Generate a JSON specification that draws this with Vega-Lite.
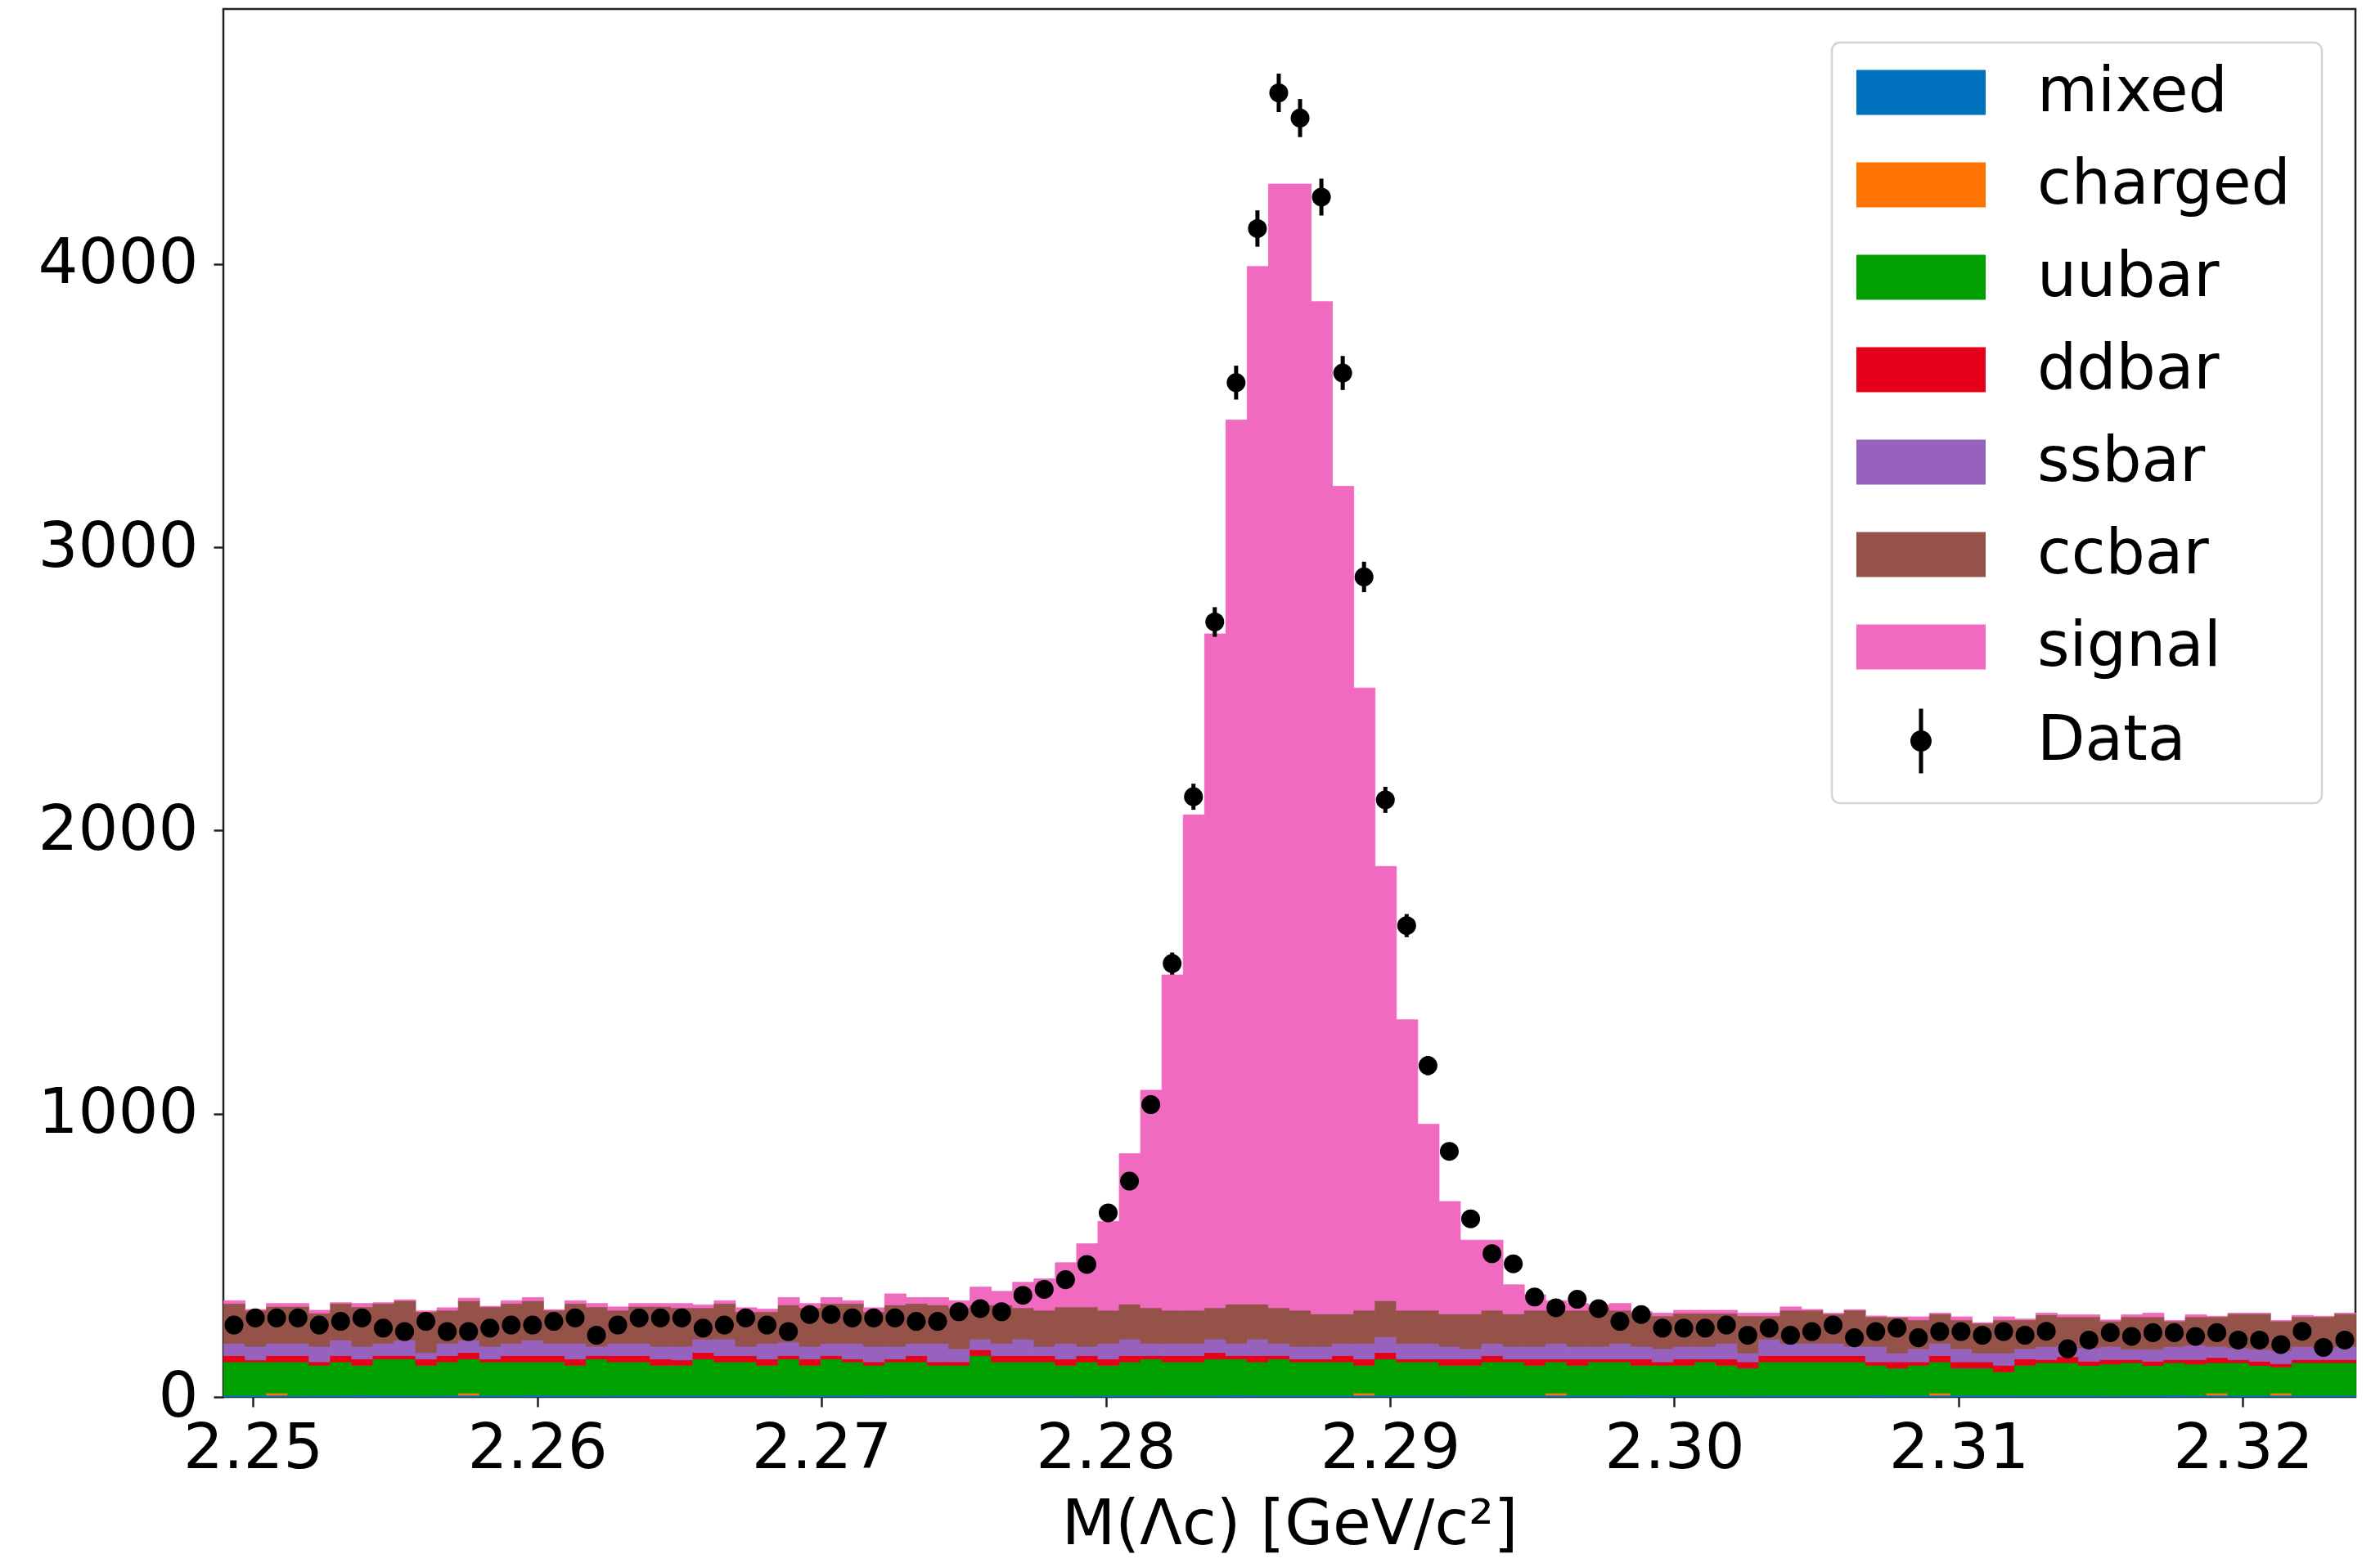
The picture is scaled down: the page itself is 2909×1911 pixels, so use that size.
{
  "$schema": "https://vega.github.io/schema/vega-lite/v6.json",
  "width": 2606,
  "height": 1697,
  "autosize": {"type": "none"},
  "padding": {"left": 273, "top": 11, "right": 30, "bottom": 203},
  "background": "white",
  "config": {
    "font": "DejaVu Sans",
    "view": {"stroke": "#222222", "strokeWidth": 2.5},
    "axis": {
      "grid": false,
      "domain": false,
      "tickColor": "#222222",
      "tickWidth": 2.5,
      "tickSize": 12,
      "labelFont": "DejaVu Sans",
      "labelFontSize": 77,
      "labelLimit": 1000,
      "labelColor": "black",
      "titleFont": "DejaVu Sans",
      "titleFontSize": 76,
      "titleFontWeight": "normal",
      "titleColor": "black"
    }
  },
  "datasets": {
    "stackOrder": [
      {"sample": "mixed", "rank": 0},
      {"sample": "charged", "rank": 1},
      {"sample": "uubar", "rank": 2},
      {"sample": "ddbar", "rank": 3},
      {"sample": "ssbar", "rank": 4},
      {"sample": "ccbar", "rank": 5},
      {"sample": "signal", "rank": 6}
    ],
    "bins": [
      {"lo":2.24896,"hi":2.24971,"mid":2.249335,"mixed":6,"charged":0,"uubar":118,"ddbar":22,"ssbar":43,"ccbar":141,"signal":10,"n":254,"err":15.9},
      {"lo":2.24971,"hi":2.25046,"mid":2.250085,"mixed":6,"charged":0,"uubar":118,"ddbar":7,"ssbar":48,"ccbar":127,"signal":3,"n":279,"err":16.7},
      {"lo":2.25046,"hi":2.25121,"mid":2.250835,"mixed":6,"charged":8,"uubar":110,"ddbar":22,"ssbar":43,"ccbar":131,"signal":10,"n":279,"err":16.7},
      {"lo":2.25121,"hi":2.25196,"mid":2.251585,"mixed":5,"charged":0,"uubar":119,"ddbar":22,"ssbar":43,"ccbar":131,"signal":10,"n":279,"err":16.7},
      {"lo":2.25196,"hi":2.25271,"mid":2.252335,"mixed":6,"charged":0,"uubar":106,"ddbar":12,"ssbar":55,"ccbar":117,"signal":10,"n":254,"err":15.9},
      {"lo":2.25271,"hi":2.25346,"mid":2.253085,"mixed":6,"charged":0,"uubar":118,"ddbar":22,"ssbar":55,"ccbar":129,"signal":3,"n":267,"err":16.3},
      {"lo":2.25346,"hi":2.25421,"mid":2.253835,"mixed":7,"charged":0,"uubar":105,"ddbar":22,"ssbar":45,"ccbar":139,"signal":12,"n":279,"err":16.7},
      {"lo":2.25421,"hi":2.25496,"mid":2.254585,"mixed":6,"charged":0,"uubar":128,"ddbar":12,"ssbar":43,"ccbar":141,"signal":3,"n":243,"err":15.6},
      {"lo":2.25496,"hi":2.25571,"mid":2.255335,"mixed":6,"charged":0,"uubar":128,"ddbar":12,"ssbar":55,"ccbar":139,"signal":3,"n":231,"err":15.2},
      {"lo":2.25571,"hi":2.25646,"mid":2.256085,"mixed":5,"charged":0,"uubar":107,"ddbar":22,"ssbar":23,"ccbar":144,"signal":3,"n":267,"err":16.3},
      {"lo":2.25646,"hi":2.25721,"mid":2.256835,"mixed":6,"charged":0,"uubar":118,"ddbar":22,"ssbar":43,"ccbar":117,"signal":9,"n":231,"err":15.2},
      {"lo":2.25721,"hi":2.25796,"mid":2.257585,"mixed":6,"charged":8,"uubar":120,"ddbar":23,"ssbar":44,"ccbar":139,"signal":9,"n":231,"err":15.2},
      {"lo":2.25796,"hi":2.25871,"mid":2.258335,"mixed":6,"charged":0,"uubar":118,"ddbar":10,"ssbar":45,"ccbar":139,"signal":2,"n":243,"err":15.6},
      {"lo":2.25871,"hi":2.25946,"mid":2.259085,"mixed":6,"charged":0,"uubar":118,"ddbar":22,"ssbar":43,"ccbar":141,"signal":10,"n":254,"err":15.9},
      {"lo":2.25946,"hi":2.26021,"mid":2.259835,"mixed":7,"charged":0,"uubar":117,"ddbar":22,"ssbar":55,"ccbar":139,"signal":11,"n":254,"err":15.9},
      {"lo":2.26021,"hi":2.26096,"mid":2.260585,"mixed":6,"charged":0,"uubar":118,"ddbar":22,"ssbar":43,"ccbar":117,"signal":2,"n":267,"err":16.3},
      {"lo":2.26096,"hi":2.26171,"mid":2.261335,"mixed":6,"charged":0,"uubar":106,"ddbar":22,"ssbar":55,"ccbar":141,"signal":10,"n":279,"err":16.7},
      {"lo":2.26171,"hi":2.26246,"mid":2.262085,"mixed":5,"charged":0,"uubar":129,"ddbar":12,"ssbar":33,"ccbar":139,"signal":12,"n":218,"err":14.8},
      {"lo":2.26246,"hi":2.26321,"mid":2.262835,"mixed":6,"charged":0,"uubar":118,"ddbar":22,"ssbar":43,"ccbar":117,"signal":12,"n":254,"err":15.9},
      {"lo":2.26321,"hi":2.26396,"mid":2.263585,"mixed":6,"charged":0,"uubar":118,"ddbar":22,"ssbar":43,"ccbar":131,"signal":10,"n":279,"err":16.7},
      {"lo":2.26396,"hi":2.26471,"mid":2.264335,"mixed":6,"charged":0,"uubar":106,"ddbar":22,"ssbar":45,"ccbar":141,"signal":10,"n":279,"err":16.7},
      {"lo":2.26471,"hi":2.26546,"mid":2.265085,"mixed":6,"charged":0,"uubar":106,"ddbar":19,"ssbar":48,"ccbar":136,"signal":15,"n":279,"err":16.7},
      {"lo":2.26546,"hi":2.26621,"mid":2.265835,"mixed":6,"charged":0,"uubar":128,"ddbar":23,"ssbar":47,"ccbar":111,"signal":10,"n":243,"err":15.6},
      {"lo":2.26621,"hi":2.26696,"mid":2.266585,"mixed":6,"charged":0,"uubar":118,"ddbar":22,"ssbar":58,"ccbar":126,"signal":10,"n":254,"err":15.9},
      {"lo":2.26696,"hi":2.26771,"mid":2.267335,"mixed":6,"charged":0,"uubar":118,"ddbar":22,"ssbar":33,"ccbar":122,"signal":14,"n":279,"err":16.7},
      {"lo":2.26771,"hi":2.26846,"mid":2.268085,"mixed":6,"charged":0,"uubar":106,"ddbar":22,"ssbar":55,"ccbar":112,"signal":9,"n":254,"err":15.9},
      {"lo":2.26846,"hi":2.26921,"mid":2.268835,"mixed":5,"charged":0,"uubar":129,"ddbar":12,"ssbar":48,"ccbar":131,"signal":26,"n":231,"err":15.2},
      {"lo":2.26921,"hi":2.26996,"mid":2.269585,"mixed":6,"charged":0,"uubar":106,"ddbar":22,"ssbar":45,"ccbar":136,"signal":15,"n":291,"err":17.1},
      {"lo":2.26996,"hi":2.27071,"mid":2.270335,"mixed":6,"charged":0,"uubar":128,"ddbar":12,"ssbar":43,"ccbar":141,"signal":21,"n":291,"err":17.1},
      {"lo":2.27071,"hi":2.27146,"mid":2.271085,"mixed":6,"charged":0,"uubar":118,"ddbar":10,"ssbar":55,"ccbar":141,"signal":10,"n":279,"err":16.7},
      {"lo":2.27146,"hi":2.27221,"mid":2.271835,"mixed":7,"charged":0,"uubar":105,"ddbar":12,"ssbar":55,"ccbar":122,"signal":14,"n":279,"err":16.7},
      {"lo":2.27221,"hi":2.27296,"mid":2.272585,"mixed":6,"charged":0,"uubar":118,"ddbar":10,"ssbar":45,"ccbar":146,"signal":39,"n":279,"err":16.7},
      {"lo":2.27296,"hi":2.27371,"mid":2.273335,"mixed":6,"charged":0,"uubar":118,"ddbar":22,"ssbar":43,"ccbar":141,"signal":21,"n":267,"err":16.3},
      {"lo":2.27371,"hi":2.27446,"mid":2.274085,"mixed":6,"charged":0,"uubar":106,"ddbar":12,"ssbar":65,"ccbar":136,"signal":26,"n":267,"err":16.3},
      {"lo":2.27446,"hi":2.27521,"mid":2.274835,"mixed":6,"charged":0,"uubar":106,"ddbar":12,"ssbar":46,"ccbar":145,"signal":25,"n":301,"err":17.3},
      {"lo":2.27521,"hi":2.27596,"mid":2.275585,"mixed":6,"charged":0,"uubar":140,"ddbar":21,"ssbar":37,"ccbar":121,"signal":63,"n":312,"err":17.7},
      {"lo":2.27596,"hi":2.27671,"mid":2.276335,"mixed":6,"charged":0,"uubar":118,"ddbar":22,"ssbar":43,"ccbar":136,"signal":48,"n":301,"err":17.3},
      {"lo":2.27671,"hi":2.27746,"mid":2.277085,"mixed":6,"charged":0,"uubar":118,"ddbar":22,"ssbar":58,"ccbar":111,"signal":90,"n":359,"err":18.9},
      {"lo":2.27746,"hi":2.27821,"mid":2.277835,"mixed":6,"charged":0,"uubar":118,"ddbar":22,"ssbar":33,"ccbar":127,"signal":111,"n":380,"err":19.5},
      {"lo":2.27821,"hi":2.27896,"mid":2.278585,"mixed":6,"charged":0,"uubar":106,"ddbar":22,"ssbar":55,"ccbar":129,"signal":156,"n":414,"err":20.3},
      {"lo":2.27896,"hi":2.27971,"mid":2.279335,"mixed":5,"charged":0,"uubar":119,"ddbar":22,"ssbar":33,"ccbar":139,"signal":223,"n":468,"err":21.6},
      {"lo":2.27971,"hi":2.28046,"mid":2.280085,"mixed":6,"charged":0,"uubar":106,"ddbar":22,"ssbar":55,"ccbar":117,"signal":314,"n":650,"err":25.5},
      {"lo":2.28046,"hi":2.28121,"mid":2.280835,"mixed":6,"charged":0,"uubar":118,"ddbar":22,"ssbar":58,"ccbar":124,"signal":531,"n":762,"err":27.6},
      {"lo":2.28121,"hi":2.28196,"mid":2.281585,"mixed":6,"charged":0,"uubar":128,"ddbar":12,"ssbar":43,"ccbar":126,"signal":768,"n":1032,"err":32.1},
      {"lo":2.28196,"hi":2.28271,"mid":2.282335,"mixed":6,"charged":0,"uubar":118,"ddbar":22,"ssbar":43,"ccbar":117,"signal":1184,"n":1530,"err":39.1},
      {"lo":2.28271,"hi":2.28346,"mid":2.283085,"mixed":6,"charged":0,"uubar":118,"ddbar":22,"ssbar":43,"ccbar":117,"signal":1749,"n":2119,"err":46.0},
      {"lo":2.28346,"hi":2.28421,"mid":2.283835,"mixed":6,"charged":0,"uubar":128,"ddbar":23,"ssbar":47,"ccbar":111,"signal":2379,"n":2736,"err":52.3},
      {"lo":2.28421,"hi":2.28496,"mid":2.284585,"mixed":7,"charged":0,"uubar":127,"ddbar":12,"ssbar":43,"ccbar":139,"signal":3121,"n":3581,"err":59.8},
      {"lo":2.28496,"hi":2.28571,"mid":2.285335,"mixed":6,"charged":0,"uubar":118,"ddbar":22,"ssbar":58,"ccbar":124,"signal":3663,"n":4125,"err":64.2},
      {"lo":2.28571,"hi":2.28646,"mid":2.286085,"mixed":6,"charged":0,"uubar":128,"ddbar":12,"ssbar":43,"ccbar":126,"signal":3967,"n":4604,"err":67.9},
      {"lo":2.28646,"hi":2.28721,"mid":2.286835,"mixed":6,"charged":0,"uubar":118,"ddbar":10,"ssbar":45,"ccbar":127,"signal":3976,"n":4515,"err":67.2},
      {"lo":2.28721,"hi":2.28796,"mid":2.287585,"mixed":6,"charged":0,"uubar":118,"ddbar":10,"ssbar":45,"ccbar":114,"signal":3574,"n":4236,"err":65.1},
      {"lo":2.28796,"hi":2.28871,"mid":2.288335,"mixed":6,"charged":0,"uubar":118,"ddbar":22,"ssbar":43,"ccbar":104,"signal":2922,"n":3615,"err":60.1},
      {"lo":2.28871,"hi":2.28946,"mid":2.289085,"mixed":6,"charged":8,"uubar":98,"ddbar":22,"ssbar":55,"ccbar":117,"signal":2197,"n":2895,"err":53.8},
      {"lo":2.28946,"hi":2.29021,"mid":2.289835,"mixed":6,"charged":0,"uubar":128,"ddbar":23,"ssbar":56,"ccbar":127,"signal":1533,"n":2108,"err":45.9},
      {"lo":2.29021,"hi":2.29096,"mid":2.290585,"mixed":6,"charged":0,"uubar":118,"ddbar":10,"ssbar":55,"ccbar":117,"signal":1026,"n":1664,"err":40.8},
      {"lo":2.29096,"hi":2.29171,"mid":2.291335,"mixed":6,"charged":0,"uubar":118,"ddbar":10,"ssbar":55,"ccbar":117,"signal":657,"n":1170,"err":34.2},
      {"lo":2.29171,"hi":2.29246,"mid":2.292085,"mixed":6,"charged":0,"uubar":106,"ddbar":22,"ssbar":45,"ccbar":114,"signal":397,"n":867,"err":29.4},
      {"lo":2.29246,"hi":2.29321,"mid":2.292835,"mixed":5,"charged":0,"uubar":107,"ddbar":22,"ssbar":36,"ccbar":123,"signal":261,"n":629,"err":25.1},
      {"lo":2.29321,"hi":2.29396,"mid":2.293585,"mixed":6,"charged":0,"uubar":118,"ddbar":22,"ssbar":43,"ccbar":117,"signal":248,"n":506,"err":22.5},
      {"lo":2.29396,"hi":2.29471,"mid":2.294335,"mixed":6,"charged":0,"uubar":118,"ddbar":10,"ssbar":45,"ccbar":114,"signal":103,"n":470,"err":21.7},
      {"lo":2.29471,"hi":2.29546,"mid":2.295085,"mixed":6,"charged":0,"uubar":106,"ddbar":22,"ssbar":45,"ccbar":127,"signal":55,"n":353,"err":18.8},
      {"lo":2.29546,"hi":2.29621,"mid":2.295835,"mixed":6,"charged":8,"uubar":110,"ddbar":10,"ssbar":55,"ccbar":117,"signal":34,"n":315,"err":17.7},
      {"lo":2.29621,"hi":2.29696,"mid":2.296585,"mixed":6,"charged":0,"uubar":106,"ddbar":22,"ssbar":45,"ccbar":127,"signal":24,"n":345,"err":18.6},
      {"lo":2.29696,"hi":2.29771,"mid":2.297335,"mixed":6,"charged":0,"uubar":118,"ddbar":10,"ssbar":45,"ccbar":139,"signal":8,"n":312,"err":17.7},
      {"lo":2.29771,"hi":2.29846,"mid":2.298085,"mixed":6,"charged":0,"uubar":118,"ddbar":10,"ssbar":55,"ccbar":117,"signal":24,"n":267,"err":16.3},
      {"lo":2.29846,"hi":2.29921,"mid":2.298835,"mixed":7,"charged":0,"uubar":105,"ddbar":22,"ssbar":45,"ccbar":117,"signal":5,"n":291,"err":17.1},
      {"lo":2.29921,"hi":2.29996,"mid":2.299585,"mixed":6,"charged":0,"uubar":106,"ddbar":12,"ssbar":46,"ccbar":116,"signal":10,"n":243,"err":15.6},
      {"lo":2.29996,"hi":2.30071,"mid":2.300335,"mixed":6,"charged":0,"uubar":106,"ddbar":22,"ssbar":45,"ccbar":117,"signal":10,"n":243,"err":15.6},
      {"lo":2.30071,"hi":2.30146,"mid":2.301085,"mixed":6,"charged":0,"uubar":118,"ddbar":10,"ssbar":45,"ccbar":117,"signal":10,"n":243,"err":15.6},
      {"lo":2.30146,"hi":2.30221,"mid":2.301835,"mixed":6,"charged":0,"uubar":106,"ddbar":22,"ssbar":55,"ccbar":107,"signal":10,"n":254,"err":15.9},
      {"lo":2.30221,"hi":2.30296,"mid":2.302585,"mixed":5,"charged":0,"uubar":97,"ddbar":22,"ssbar":31,"ccbar":131,"signal":10,"n":218,"err":14.8},
      {"lo":2.30296,"hi":2.30371,"mid":2.303335,"mixed":6,"charged":0,"uubar":118,"ddbar":22,"ssbar":58,"ccbar":82,"signal":10,"n":243,"err":15.6},
      {"lo":2.30371,"hi":2.30446,"mid":2.304085,"mixed":6,"charged":0,"uubar":118,"ddbar":22,"ssbar":43,"ccbar":117,"signal":12,"n":218,"err":14.8},
      {"lo":2.30446,"hi":2.30521,"mid":2.304835,"mixed":6,"charged":0,"uubar":118,"ddbar":22,"ssbar":43,"ccbar":117,"signal":3,"n":231,"err":15.2},
      {"lo":2.30521,"hi":2.30596,"mid":2.305585,"mixed":6,"charged":0,"uubar":118,"ddbar":22,"ssbar":43,"ccbar":104,"signal":3,"n":254,"err":15.9},
      {"lo":2.30596,"hi":2.30671,"mid":2.306335,"mixed":6,"charged":0,"uubar":118,"ddbar":22,"ssbar":33,"ccbar":127,"signal":2,"n":209,"err":14.5},
      {"lo":2.30671,"hi":2.30746,"mid":2.307085,"mixed":7,"charged":0,"uubar":105,"ddbar":12,"ssbar":55,"ccbar":104,"signal":3,"n":231,"err":15.2},
      {"lo":2.30746,"hi":2.30821,"mid":2.307835,"mixed":6,"charged":0,"uubar":96,"ddbar":22,"ssbar":31,"ccbar":126,"signal":2,"n":243,"err":15.6},
      {"lo":2.30821,"hi":2.30896,"mid":2.308585,"mixed":6,"charged":0,"uubar":106,"ddbar":12,"ssbar":46,"ccbar":102,"signal":11,"n":209,"err":14.5},
      {"lo":2.30896,"hi":2.30971,"mid":2.309335,"mixed":6,"charged":8,"uubar":110,"ddbar":22,"ssbar":43,"ccbar":104,"signal":3,"n":231,"err":15.2},
      {"lo":2.30971,"hi":2.31046,"mid":2.310085,"mixed":6,"charged":0,"uubar":96,"ddbar":22,"ssbar":46,"ccbar":102,"signal":11,"n":231,"err":15.2},
      {"lo":2.31046,"hi":2.31121,"mid":2.310835,"mixed":6,"charged":0,"uubar":96,"ddbar":22,"ssbar":31,"ccbar":105,"signal":2,"n":218,"err":14.8},
      {"lo":2.31121,"hi":2.31196,"mid":2.311585,"mixed":6,"charged":0,"uubar":83,"ddbar":23,"ssbar":43,"ccbar":117,"signal":11,"n":231,"err":15.2},
      {"lo":2.31196,"hi":2.31271,"mid":2.312335,"mixed":6,"charged":0,"uubar":106,"ddbar":22,"ssbar":36,"ccbar":102,"signal":3,"n":218,"err":14.8},
      {"lo":2.31271,"hi":2.31346,"mid":2.313085,"mixed":6,"charged":0,"uubar":115,"ddbar":11,"ssbar":46,"ccbar":112,"signal":6,"n":232,"err":15.2},
      {"lo":2.31346,"hi":2.31421,"mid":2.313835,"mixed":6,"charged":0,"uubar":115,"ddbar":21,"ssbar":41,"ccbar":100,"signal":7,"n":170,"err":13.0},
      {"lo":2.31421,"hi":2.31496,"mid":2.314585,"mixed":6,"charged":0,"uubar":105,"ddbar":15,"ssbar":47,"ccbar":110,"signal":7,"n":201,"err":14.2},
      {"lo":2.31496,"hi":2.31571,"mid":2.315335,"mixed":5,"charged":0,"uubar":111,"ddbar":16,"ssbar":46,"ccbar":90,"signal":4,"n":227,"err":15.1},
      {"lo":2.31571,"hi":2.31646,"mid":2.316085,"mixed":6,"charged":0,"uubar":115,"ddbar":11,"ssbar":36,"ccbar":115,"signal":7,"n":214,"err":14.6},
      {"lo":2.31646,"hi":2.31721,"mid":2.316835,"mixed":6,"charged":0,"uubar":105,"ddbar":15,"ssbar":42,"ccbar":115,"signal":13,"n":227,"err":15.1},
      {"lo":2.31721,"hi":2.31796,"mid":2.317585,"mixed":7,"charged":0,"uubar":114,"ddbar":11,"ssbar":46,"ccbar":90,"signal":2,"n":227,"err":15.1},
      {"lo":2.31796,"hi":2.31871,"mid":2.318335,"mixed":6,"charged":0,"uubar":110,"ddbar":16,"ssbar":51,"ccbar":100,"signal":7,"n":214,"err":14.6},
      {"lo":2.31871,"hi":2.31946,"mid":2.319085,"mixed":6,"charged":8,"uubar":107,"ddbar":18,"ssbar":39,"ccbar":105,"signal":2,"n":227,"err":15.1},
      {"lo":2.31946,"hi":2.32021,"mid":2.319835,"mixed":6,"charged":0,"uubar":115,"ddbar":11,"ssbar":41,"ccbar":121,"signal":2,"n":201,"err":14.2},
      {"lo":2.32021,"hi":2.32096,"mid":2.320585,"mixed":6,"charged":0,"uubar":105,"ddbar":15,"ssbar":42,"ccbar":126,"signal":2,"n":201,"err":14.2},
      {"lo":2.32096,"hi":2.32171,"mid":2.321335,"mixed":6,"charged":8,"uubar":92,"ddbar":12,"ssbar":45,"ccbar":105,"signal":2,"n":185,"err":13.6},
      {"lo":2.32171,"hi":2.32246,"mid":2.322085,"mixed":6,"charged":0,"uubar":115,"ddbar":11,"ssbar":46,"ccbar":105,"signal":5,"n":232,"err":15.2},
      {"lo":2.32246,"hi":2.32321,"mid":2.322835,"mixed":6,"charged":0,"uubar":115,"ddbar":11,"ssbar":41,"ccbar":110,"signal":2,"n":175,"err":13.2},
      {"lo":2.32321,"hi":2.32396,"mid":2.323585,"mixed":6,"charged":0,"uubar":115,"ddbar":11,"ssbar":46,"ccbar":116,"signal":2,"n":201,"err":14.2}
    ]
  },
  "layer": [
    {
      "data": {"name": "bins"},
      "transform": [
        {"fold": ["mixed", "charged", "uubar", "ddbar", "ssbar", "ccbar", "signal"], "as": ["sample", "count"]},
        {"filter": "datum.count > 0"},
        {"lookup": "sample", "from": {"data": {"name": "stackOrder"}, "key": "sample", "fields": ["rank"]}}
      ],
      "mark": {"type": "bar", "strokeWidth": 0.8, "binSpacing": 0},
      "encoding": {
        "x": {
          "field": "lo",
          "type": "quantitative",
          "bin": {"binned": true},
          "scale": {"domain": [2.24896, 2.32396], "nice": false, "zero": false},
          "axis": {
            "values": [2.25, 2.26, 2.27, 2.28, 2.29, 2.3, 2.31, 2.32],
            "format": ".2f",
            "labelPadding": 13,
            "titlePadding": 18,
            "title": "M(Λc) [GeV/c²]"
          }
        },
        "x2": {"field": "hi"},
        "y": {
          "field": "count",
          "type": "quantitative",
          "stack": "zero",
          "scale": {"domain": [0, 4900], "nice": false},
          "axis": {"values": [0, 1000, 2000, 3000, 4000], "format": "d", "labelPadding": 19, "title": null}
        },
        "color": {
          "field": "sample",
          "type": "nominal",
          "scale": {
            "domain": ["mixed", "charged", "uubar", "ddbar", "ssbar", "ccbar", "signal", "Data"],
            "range": ["#0072bd", "#ff7400", "#00a000", "#e60019", "#9762bd", "#955249", "#f06abf", "#000000"]
          },
          "legend": {
            "title": null,
            "orient": "top-right",
            "offset": 41,
            "padding": 23,
            "rowPadding": 37,
            "labelFont": "DejaVu Sans",
            "labelFontSize": 76,
            "labelColor": "black",
            "labelOffset": 152,
            "labelLimit": 1000,
            "symbolSize": 5184,
            "symbolType": "M-0.861,-0.764H3.528V0.764H-0.861Z",
            "symbolStrokeWidth": 0,
            "symbolOpacity": 1,
            "strokeColor": "#d4d4d4",
            "cornerRadius": 10,
            "fillColor": "white",
            "encode": {
              "legend": {"update": {"strokeWidth": {"value": 2.5}}},
              "symbols": {
                "update": {
                  "shape": {"signal": "datum.value === 'Data' ? 'M14.3,1.45M1.263,-1.1H1.403V1.1H1.263Z M1.694,0A0.361,0.361 0 1,1 0.972,0A0.361,0.361 0 1,1 1.694,0Z' : 'M-0.861,-0.764H3.528V0.764H-0.861Z'"}
                }
              }
            }
          }
        },
        "stroke": {
          "field": "sample",
          "type": "nominal",
          "scale": {
            "domain": ["mixed", "charged", "uubar", "ddbar", "ssbar", "ccbar", "signal", "Data"],
            "range": ["#0072bd", "#ff7400", "#00a000", "#e60019", "#9762bd", "#955249", "#f06abf", "#000000"]
          },
          "legend": null
        },
        "order": {"field": "rank", "type": "quantitative"}
      }
    },
    {
      "data": {"name": "bins"},
      "mark": {"type": "errorbar", "thickness": 5, "color": "black"},
      "encoding": {
        "x": {"field": "mid", "type": "quantitative", "title": "M(Λc) [GeV/c²]"},
        "y": {"field": "n", "type": "quantitative", "title": null},
        "yError": {"field": "err"}
      }
    },
    {
      "data": {"name": "bins"},
      "mark": {"type": "circle", "color": "black", "size": 530, "opacity": 1},
      "encoding": {
        "x": {"field": "mid", "type": "quantitative", "title": "M(Λc) [GeV/c²]"},
        "y": {"field": "n", "type": "quantitative", "title": null}
      }
    }
  ]
}
